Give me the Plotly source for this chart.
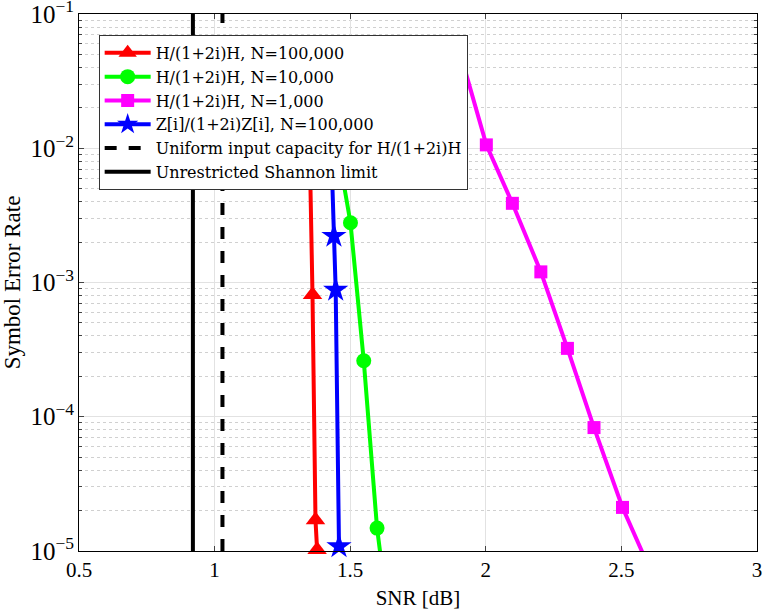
import plotly.graph_objects as go

# ---- data ----
snr_h_100k = [1.350, 1.361, 1.372, 1.378]
ser_h_100k = [1.2e-2, 8.1e-4, 1.7e-5, 1.02e-5]

snr_h_10k = [1.45, 1.501, 1.550, 1.599, 1.65]
ser_h_10k = [1.1e-2, 2.79e-3, 2.61e-4, 1.48e-5, 2.3e-6]

snr_h_1k = [1.90, 2.002, 2.098, 2.203, 2.301, 2.399, 2.504, 2.60]
ser_h_1k = [5.6e-2, 1.06e-2, 3.89e-3, 1.20e-3, 3.23e-4, 8.3e-5, 2.11e-5, 7.7e-6]

snr_z_100k = [1.430, 1.440, 1.4465, 1.4587]
ser_z_100k = [1.0e-2, 2.22e-3, 8.8e-4, 1.08e-5]

uniform_capacity_snr = 1.029
shannon_limit_snr = 0.920

names = [
    "H/(1+2i)H, N=100,000",
    "H/(1+2i)H, N=10,000",
    "H/(1+2i)H, N=1,000",
    "Z[i]/(1+2i)Z[i], N=100,000",
    "Uniform input capacity for H/(1+2i)H",
    "Unrestricted Shannon limit",
]

x_ticks = [0.5, 1, 1.5, 2, 2.5, 3]
x_tick_labels = ["0.5", "1", "1.5", "2", "2.5", "3"]
y_range_log = [-5, -1]

FONT = "'Liberation Serif', 'Times New Roman', serif"
LEGEND_FONT = "'DejaVu Serif', 'Liberation Serif', serif"

fig = go.Figure()

fig.add_trace(go.Scatter(
    x=snr_h_100k, y=ser_h_100k, mode="lines+markers", name=names[0],
    line=dict(color="#ff0000", width=4), cliponaxis=False,
    marker=dict(symbol="triangle-up", size=17, color="#ff0000"),
))
fig.add_trace(go.Scatter(
    x=snr_h_10k, y=ser_h_10k, mode="lines+markers", name=names[1],
    line=dict(color="#00ff00", width=4),
    marker=dict(symbol="circle", size=15, color="#00ff00"),
))
fig.add_trace(go.Scatter(
    x=snr_h_1k, y=ser_h_1k, mode="lines+markers", name=names[2],
    line=dict(color="#ff00ff", width=4),
    marker=dict(symbol="square", size=13, color="#ff00ff"),
))
fig.add_trace(go.Scatter(
    x=snr_z_100k, y=ser_z_100k, mode="lines+markers", name=names[3],
    line=dict(color="#0000ff", width=4), cliponaxis=False,
    marker=dict(symbol="star", size=19, color="#0000ff"),
))
fig.add_trace(go.Scatter(
    x=[uniform_capacity_snr, uniform_capacity_snr],
    y=[10 ** y_range_log[0], 10 ** y_range_log[1]],
    mode="lines", name=names[4],
    line=dict(color="black", width=4, dash="12px,12px"),
))
fig.add_trace(go.Scatter(
    x=[shannon_limit_snr, shannon_limit_snr],
    y=[10 ** y_range_log[0], 10 ** y_range_log[1]],
    mode="lines", name=names[5],
    line=dict(color="black", width=4),
))

fig.update_layout(
    width=764, height=610,
    margin=dict(l=79, r=7, t=14, b=59, autoexpand=False),
    paper_bgcolor="white", plot_bgcolor="white",
    font=dict(family=FONT, size=20, color="black"),
    showlegend=True,
    legend=dict(
        x=0.029, y=0.961, xanchor="left", yanchor="top",
        bgcolor="white", bordercolor="#333333", borderwidth=1,
        font=dict(family=LEGEND_FONT, size=16, color="black"),
        itemwidth=46, tracegroupgap=0,
    ),
)

fig.update_xaxes(
    range=[0.5, 3], tickvals=x_ticks, ticktext=x_tick_labels, automargin=False,
    showline=True, linecolor="black", linewidth=1, mirror="allticks",
    ticks="inside", ticklen=5, tickcolor="#444444",
    showgrid=True, gridcolor="#e2e2e2", gridwidth=1, zeroline=False,
    title=dict(text="SNR [dB]", standoff=9, font=dict(family=FONT, size=21)),
    tickfont=dict(family=FONT, size=21), ticklabeloverflow="allow",
)
fig.update_yaxes(
    type="log", range=[y_range_log[0] - 0.0005, y_range_log[1] + 0.0005],
    dtick=1, exponentformat="power", ticklabeloverflow="allow", automargin=False,
    showline=True, linecolor="black", linewidth=1, mirror="allticks",
    ticks="inside", ticklen=5, tickcolor="#444444",
    showgrid=True, gridcolor="#e2e2e2", gridwidth=1, zeroline=False,
    minor=dict(ticks="inside", ticklen=3, tickcolor="#444444",
               showgrid=True, gridcolor="#d0d0d0", griddash="dot", gridwidth=1),
    title=dict(text="Symbol Error Rate", standoff=4, font=dict(family=FONT, size=23)),
    tickfont=dict(family=FONT, size=20),
)

fig.write_html("out.html")
